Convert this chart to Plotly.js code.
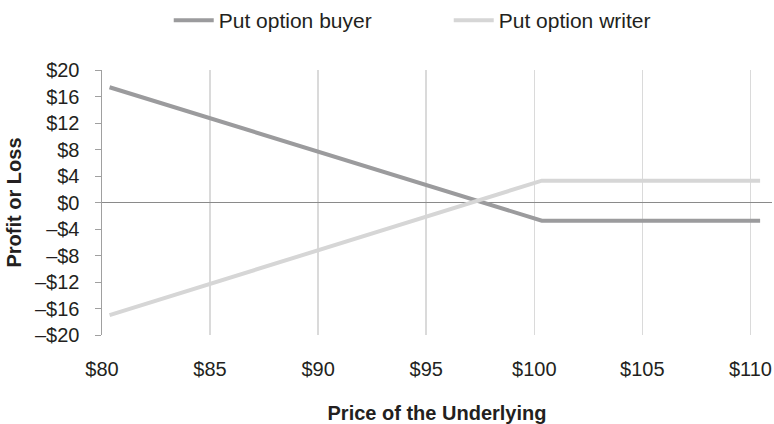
<!DOCTYPE html>
<html>
<head>
<meta charset="utf-8">
<script src="https://cdn.plot.ly/plotly-3.0.1.min.js"></script>
<style>html,body{margin:0;padding:0;background:#fff;}#chart{width:774px;height:424px;}</style>
</head>
<body>
<div id="chart"></div>
<script>
// Data
const underlyingPrice = [80.35, 100.35, 110.45];
const putBuyer = [17.4, -2.75, -2.75];
const putWriter = [-17.0, 3.3, 3.3];
const xTickVals = [80, 85, 90, 95, 100, 105, 110];
const xTickText = ["$80", "$85", "$90", "$95", "$100", "$105", "$110"];
const yTickVals = [-20, -16, -12, -8, -4, 0, 4, 8, 12, 16, 20];
const yTickText = ["–$20", "–$16", "–$12", "–$8", "–$4", "$0", "$4", "$8", "$12", "$16", "$20"];

const FONT = "'Liberation Sans', Arial, Helvetica, sans-serif";
const TXT = "#231f20";

const traces = [
  {x: underlyingPrice, y: putBuyer, name: "Put option buyer", mode: "lines", type: "scatter",
   line: {color: "#9b9b9d", width: 4}},
  {x: underlyingPrice, y: putWriter, name: "Put option writer", mode: "lines", type: "scatter",
   line: {color: "#d6d6d6", width: 4}}
];

const layout = {
  width: 774, height: 424,
  margin: {l: 102, r: 2, t: 70, b: 89},
  paper_bgcolor: "#fff", plot_bgcolor: "#fff",
  font: {family: FONT, size: 20, color: TXT},
  showlegend: true,
  legend: {orientation: "h", xref: "container", yref: "container", x: 0.218, y: 1.0,
           xanchor: "left", yanchor: "top", itemwidth: 40, entrywidth: 225, entrywidthmode: "pixels",
           font: {family: FONT, size: 21, color: TXT}},
  xaxis: {range: [80, 111], tickvals: xTickVals, ticktext: xTickText, showgrid: true,
          gridcolor: "#dadada", gridwidth: 1.5, zeroline: false, showline: false, ticks: "",
          ticklabelstandoff: 20, fixedrange: true,
          title: {text: "Price of the Underlying", font: {family: FONT, size: 20, weight: "bold", color: TXT}, standoff: 29}},
  yaxis: {range: [-20, 20], tickvals: yTickVals, ticktext: yTickText, showgrid: false,
          zeroline: true, zerolinecolor: "#8a8a8a", zerolinewidth: 1,
          showline: true, linecolor: "#a0a0a0", linewidth: 1.5, ticks: "outside", ticklen: 6,
          tickcolor: "#a0a0a0", ticklabelstandoff: 11,
          title: {text: "Profit or Loss", font: {family: FONT, size: 20, weight: "bold", color: TXT}, standoff: 8}}
};

Plotly.newPlot("chart", traces, layout, {displayModeBar: false, staticPlot: true});
</script>
</body>
</html>
